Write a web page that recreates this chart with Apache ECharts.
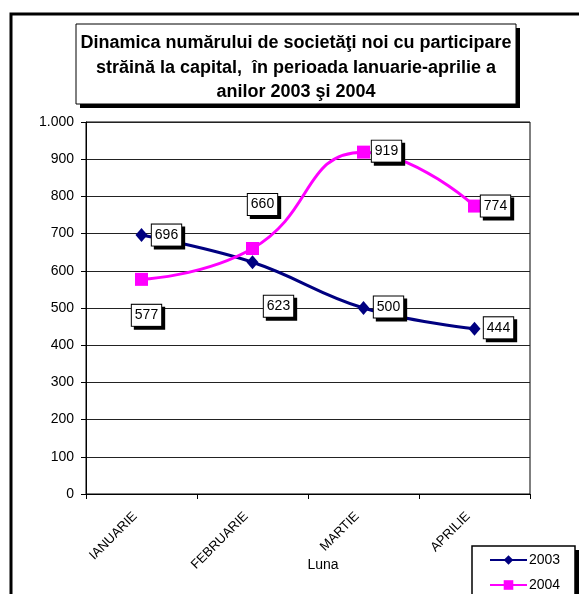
<!DOCTYPE html>
<html>
<head>
<meta charset="utf-8">
<script src="https://cdn.jsdelivr.net/npm/echarts@6/dist/echarts.min.js"></script>
<style>html,body{margin:0;padding:0;background:#fff;}#c{width:579px;height:594px;}</style>
</head>
<body>
<div id="c"></div>
<script>
const categories = ['IANUARIE', 'FEBRUARIE', 'MARTIE', 'APRILIE'];
const values2003 = [696, 623, 500, 444];
const values2004 = [577, 660, 919, 774];
const seriesNames = ['2003', '2004'];
const titleLines = ['Dinamica numărului de societăţi noi cu participare', 'străină la capital,  în perioada Ianuarie-aprilie a', 'anilor 2003 şi 2004'];
const xAxisName = 'Luna';

// label offsets (styling, px)
const off2003 = [[25, 0], [26, 44], [25, -1], [24, -1]];
const off2004 = [[5, 36], [10, -44], [23, -1], [21, 0]];

const FONT = '"Liberation Sans", Arial, sans-serif';
const labelBox = {
  show: true, position: 'inside', color: '#000', fontFamily: FONT, fontSize: 14,
  backgroundColor: '#fff', borderColor: '#000', borderWidth: 1, padding: [4, 3, 3, 3],
  shadowColor: '#000', shadowOffsetX: 3, shadowOffsetY: 3, shadowBlur: 0
};
function mk(vals, offs) {
  return vals.map((v, i) => ({ value: v, label: Object.assign({}, labelBox, { offset: offs[i] }) }));
}

const chart = echarts.init(document.getElementById('c'), null, { renderer: 'canvas' });
chart.setOption({
  animation: false,
  backgroundColor: '#fff',
  textStyle: { fontFamily: FONT },
  grid: { left: 86, right: 49, top: 122, bottom: 100, show: true, borderColor: '#000', borderWidth: 1,
    containLabel: false, outerBoundsMode: 'none' },
  graphic: [
    { type: 'rect', shape: { x: 11, y: 14, width: 800, height: 800 }, style: { fill: null, stroke: '#000', lineWidth: 3 }, z: 100 },
    { type: 'rect', shape: { x: 80, y: 28, width: 440, height: 80 }, style: { fill: '#000' }, z: 101 },
    { type: 'rect', shape: { x: 76, y: 24, width: 440, height: 80 }, style: { fill: '#fff', stroke: '#000', lineWidth: 1 }, z: 102 },
    { type: 'text', x: 296, y: 31, z: 103, style: { text: titleLines.join('\n'), align: 'center', verticalAlign: 'top', font: 'bold 18px ' + FONT, lineHeight: 24.5, fill: '#000' } },
    { type: 'rect', shape: { x: 476, y: 550, width: 103, height: 100 }, style: { fill: '#000' }, z: 101 },
    { type: 'rect', shape: { x: 472, y: 546, width: 103, height: 100 }, style: { fill: '#fff', stroke: '#000', lineWidth: 1.5 }, z: 102 }
  ],
  legend: {
    data: seriesNames, orient: 'vertical', left: 489, top: 553, z: 110, padding: 0,
    itemWidth: 37, itemHeight: 12, itemGap: 11,
    textStyle: { fontFamily: FONT, fontSize: 14, color: '#000', padding: [0, 0, 0, -3] }
  },
  xAxis: {
    type: 'category', data: categories, boundaryGap: true,
    name: xAxisName, nameLocation: 'middle', nameGap: 64, nameMoveOverlap: false,
    nameTextStyle: { fontFamily: FONT, fontSize: 14, color: '#000', padding: [0, 0, 0, 30] },
    axisLine: { lineStyle: { color: '#000', width: 1 } },
    axisTick: { show: true, length: 5, lineStyle: { color: '#000' } },
    axisLabel: { rotate: 45, margin: 14, padding: [0, 9, 0, 0], fontFamily: FONT, fontSize: 13, color: '#000' }
  },
  yAxis: {
    type: 'value', min: 0, max: 1000, interval: 100,
    axisLine: { show: true, lineStyle: { color: '#000', width: 1 } },
    axisTick: { show: true, length: 5, lineStyle: { color: '#000' } },
    axisLabel: { margin: 12, fontFamily: FONT, fontSize: 14, color: '#000',
      formatter: v => String(v).replace(/\B(?=(\d{3})+(?!\d))/g, '.') },
    splitLine: { show: true, lineStyle: { color: '#222', width: 1 } }
  },
  series: [
    { name: seriesNames[0], type: 'line', data: mk(values2003, off2003), smooth: 0.4,
      symbol: 'diamond', symbolSize: [12, 14], itemStyle: { color: '#000080' },
      lineStyle: { color: '#000080', width: 3 }, z: 3 },
    { name: seriesNames[1], type: 'line', data: mk(values2004, off2004), smooth: 0.5,
      symbol: 'rect', symbolSize: 13, itemStyle: { color: '#ff00ff' },
      lineStyle: { color: '#ff00ff', width: 3 }, z: 4 }
  ]
});
</script>
</body>
</html>
